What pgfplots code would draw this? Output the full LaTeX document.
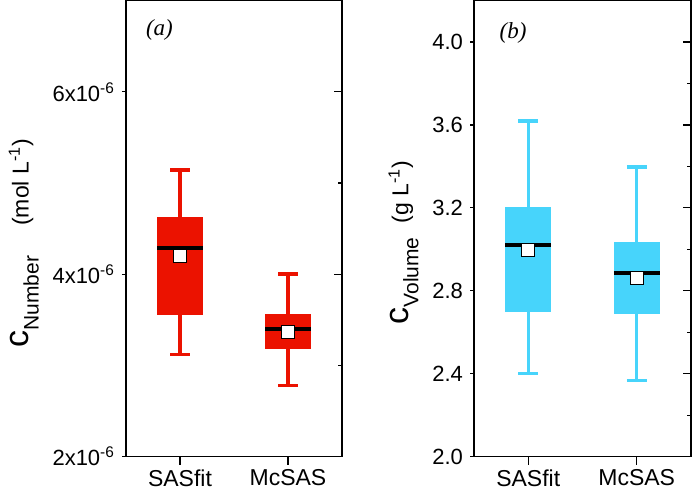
\documentclass[border=0pt]{standalone}
\usepackage{fontspec}
\setmainfont{Liberation Sans}
\newfontfamily\serifit{Liberation Serif}
\usepackage{pgfplots}
\pgfplotsset{compat=1.18}
\usepgfplotslibrary{statistics}
\definecolor{boxRed}{HTML}{EB1200}
\definecolor{boxCyan}{HTML}{47D4FB}

\pgfplotsset{
  panel/.style={scale only axis, width=108pt, height=228pt,
    xmin=0.5, xmax=2.5, xtick={1,2}, xticklabels={SASfit,McSAS},
    xtick pos=bottom, ytick pos=left, tick align=outside,
    major tick length=2pt, minor tick length=0pt,
    xtick style={/pgfplots/major tick length=4pt},
    tick style={black, line width=0.6pt}, axis line style={line width=0.6pt},
    ticklabel style={font=\fontsize{11}{11}\selectfont},
    xticklabel style={yshift=-1pt, font=\fontsize{11.5}{11.5}\selectfont},
    clip=false,
    boxplot/draw direction=y,
    boxplot/every box/.style={draw=none},
    boxplot/every median/.style={black, line width=2pt},
    boxplot/every whisker/.style={line width=1.7pt},
  },
  inner/.style={scale only axis, width=108pt, height=228pt,
    xmin=0.5, xmax=2.5, axis x line=none, axis y line*=right,
    tick align=inside, major tick length=4pt, minor tick length=2pt,
    tick style={black, line width=0.6pt}, axis line style={line width=0.6pt},
    yticklabels={}},
  meanmark/.style={only marks, mark=square*, mark size=3.2pt,
    mark options={fill=white, draw=black, line width=0.5pt}},
}

\begin{document}
\begin{tikzpicture}
% (a) number concentration, values in units of 1e-6 mol/L
\begin{axis}[panel, at={(0pt,0pt)}, anchor=south west,
    ymin=2, ymax=7, ytick={2,4,6},
    yticklabels={2x10\textsuperscript{-6},4x10\textsuperscript{-6},6x10\textsuperscript{-6}},
    ylabel={{\fontsize{17}{17}\selectfont c}{\fontsize{10.5}{10.5}\selectfont\raisebox{-5pt}{Number}}\hspace{15pt}{\fontsize{11.5}{11.5}\selectfont(mol L\textsuperscript{-1})}},
    ylabel style={at={(ticklabel cs:0.455)}, xshift=3pt}]
\addplot[boxRed, fill=boxRed, boxplot prepared={lower whisker=3.121, lower quartile=3.549,
    median=4.286, upper quartile=4.626, upper whisker=5.143,
    draw position=1, box extend=0.42, whisker extend=0.18}] coordinates {};
\addplot[boxRed, fill=boxRed, boxplot prepared={lower whisker=2.780, lower quartile=3.176,
    median=3.396, upper quartile=3.560, upper whisker=4.000,
    draw position=2, box extend=0.42, whisker extend=0.18}] coordinates {};
\addplot[meanmark] coordinates {(1,4.198) (2,3.363)};
\node at (rel axis cs:0.155,0.935) {\serifit\itshape\fontsize{11.5}{11.5}\selectfont (a)};
\end{axis}
\begin{axis}[inner, at={(0pt,0pt)}, anchor=south west,
    ymin=2, ymax=7, ytick={4,6}, minor ytick={3,5}]
\end{axis}

% (b) volume concentration, g/L
\begin{axis}[panel, at={(174pt,0pt)}, anchor=south west, width=108.5pt,
    ymin=2, ymax=4.2, ytick={2,2.4,2.8,3.2,3.6,4.0},
    yticklabels={2.0,2.4,2.8,3.2,3.6,4.0},
    ylabel={{\fontsize{17}{17}\selectfont c}{\fontsize{10.5}{10.5}\selectfont\raisebox{-5pt}{Volume}}\hspace{7pt}{\fontsize{11.5}{11.5}\selectfont(g L\textsuperscript{-1})}},
    ylabel style={at={(ticklabel cs:0.465)}, xshift=1pt}]
\addplot[boxCyan, fill=boxCyan, boxplot prepared={lower whisker=2.400, lower quartile=2.699,
    median=3.022, upper quartile=3.205, upper whisker=3.619,
    draw position=1, box extend=0.42, whisker extend=0.18}] coordinates {};
\addplot[boxCyan, fill=boxCyan, boxplot prepared={lower whisker=2.366, lower quartile=2.689,
    median=2.887, upper quartile=3.036, upper whisker=3.398,
    draw position=2, box extend=0.42, whisker extend=0.18}] coordinates {};
\addplot[meanmark] coordinates {(1,2.998) (2,2.863)};
\node at (rel axis cs:0.18,0.93) {\serifit\itshape\fontsize{11.5}{11.5}\selectfont (b)};
\end{axis}
\begin{axis}[inner, at={(174pt,0pt)}, anchor=south west, width=108.5pt,
    ymin=2, ymax=4.2, ytick={2.4,2.8,3.2,3.6,4.0}, minor ytick={2.2,2.6,3.0,3.4,3.8}]
\end{axis}

\pgfresetboundingbox
\useasboundingbox (-63pt,-17pt) rectangle (283pt,228.3pt);
\end{tikzpicture}
\end{document}
